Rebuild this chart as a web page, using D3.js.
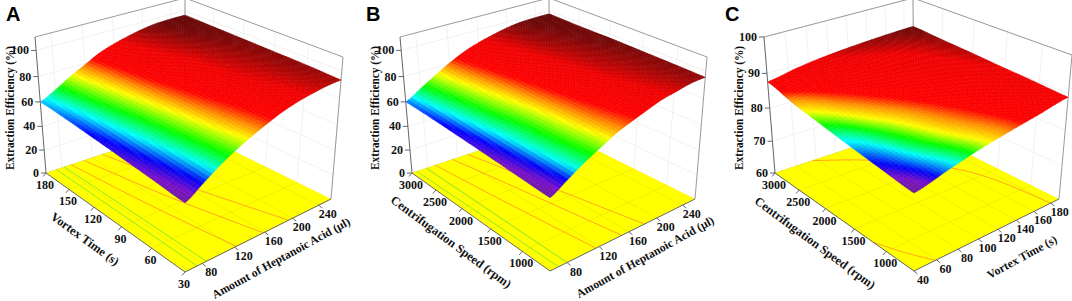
<!DOCTYPE html>
<html>
<head>
<meta charset="utf-8">
<script src="https://cdnjs.cloudflare.com/ajax/libs/d3/7.8.5/d3.min.js"></script>
<style>
  html, body { margin: 0; padding: 0; background: #fff; }
  svg { display: block; }
  text { font-family: "Liberation Serif", serif; font-weight: bold; fill: #111; }
</style>
</head>
<body>
<div id="chart"></div>
<script>
// Values
const heptanoicNodes = [60, 80, 100, 120, 140, 160, 180, 200, 220, 240, 260];
const vortexNodesA = [30, 60, 90, 120, 150, 180];
const efficiencyA = [
  [48, 55.5, 63, 69.5, 75, 80, 84.5, 88, 90.5, 92.5, 93.5],
  [50.5, 57.5, 64.5, 71, 77, 81.5, 85.5, 89.5, 91.5, 93.5, 94.5],
  [53, 60, 66.5, 73, 79, 83.5, 87, 90.5, 92.5, 94, 95],
  [55.5, 62, 68.5, 75, 81, 85.5, 88.5, 91.5, 93.5, 95, 95.5],
  [58, 64, 71, 77, 83, 87.5, 90.5, 93, 95, 96, 96],
  [60, 66, 73, 79, 85, 89, 92, 94.5, 96, 96.5, 96.5]
];
const speedNodesB = [600, 1000, 1500, 2000, 2500, 3000];
const efficiencyB = [
  [51, 58, 65, 71, 77, 81.5, 85.5, 89.5, 92, 94.5, 95.5],
  [52.5, 59.5, 66, 72.5, 78.5, 83, 87, 90.5, 93, 95, 96],
  [54.5, 61, 67.5, 74, 80, 85, 88.5, 92, 94, 95.5, 96.5],
  [56.5, 63, 70, 76, 82, 86.5, 90, 93, 95, 96.5, 97],
  [58.5, 65, 72, 78.5, 84, 88.5, 91.5, 94.5, 96, 97, 97],
  [60, 67, 74, 80.5, 86, 90, 93, 95.5, 97, 97.5, 97.5]
];
const vortexNodesC = [40, 70, 100, 130, 160, 190];
const speedNodesC = [600, 1080, 1560, 2040, 2520, 3000];
const efficiencyC = [
  [79.7, 81.9, 84, 85.7, 87.3, 89],
  [80.9, 83, 84.9, 86.4, 88, 89.6],
  [82.2, 84, 85.7, 87.2, 88.6, 90.1],
  [83.7, 85.3, 86.9, 88.2, 89.5, 90.7],
  [85.3, 86.9, 88.3, 89.4, 90.3, 91.2],
  [87.6, 89.2, 90.3, 91, 91.5, 91.8]
];

// Contour lines on the floor, as [x value, y value] pairs
const contoursA = [
  [[73, 180], [73.5, 105], [74, 30]],
  [[83, 180], [84, 105], [85, 30]],
  [[92, 180], [105, 105], [122, 30]],
  [[109, 180], [130, 105], [158, 30]],
  [[134, 180], [161, 105], [194, 30]]
];
const contoursB = [
  [[66, 3000], [68, 1800], [70, 600]],
  [[78, 3000], [79, 1800], [80, 600]],
  [[90, 3000], [102, 1800], [116, 600]],
  [[113, 3000], [132, 1800], [150, 600]],
  [[134, 3000], [158, 1800], [182, 600]]
];
const contoursC = [
  [[76, 3000], [115, 2592], [160, 1848], [173.5, 1344], [179.5, 600]],
  [[40, 1200], [48.5, 886], [59, 600]]
];

const heptanoicTicks = [80, 120, 160, 200, 240];
const vortexTicksA = [30, 60, 90, 120, 150, 180];
const speedTicks = [1000, 1500, 2000, 2500, 3000];
const vortexTicksC = [40, 60, 80, 100, 120, 140, 160, 180];
const efficiencyTicksAB = [0, 20, 40, 60, 80, 100];
const efficiencyTicksC = [60, 70, 80, 90, 100];

const heptanoicTitle = 'Amount of Heptanoic Acid (µl)';
const vortexTitle = 'Vortex Time (s)';
const speedTitle = 'Centrifugation Speed (rpm)';
const efficiencyTitle = 'Extraction Efficiency (%)';

const greenLine = '#8ee82e';
const orangeLine = '#ffa423';

const panels = [
  {
    letter: 'A', letterX: 6,
    xNodes: heptanoicNodes, yNodes: vortexNodesA, values: efficiencyA,
    xDomain: [60, 260], yDomain: [30, 180], zDomain: [0, 110],
    xTicks: heptanoicTicks, yTicks: vortexTicksA, zTicks: efficiencyTicksAB,
    xTitle: heptanoicTitle, yTitle: vortexTitle,
    xTitlePos: [281, 258, -28.8], yTitlePos: [85, 239, 36], zTitleX: 10,
    contours: contoursA, contourColors: [greenLine, greenLine, orangeLine, orangeLine, orangeLine],
    floor: { F: [185, 272], R: [331, 199], B: [185, 127], L: [46, 173] },
    top: { F: [185, 105], R: [343, 57], B: [185, -2], L: [35, 37] },
    colorStops: [47, 51, 56, 61.5, 67.5, 74, 78, 82, 90, 97]
  },
  {
    letter: 'B', letterX: 366,
    xNodes: heptanoicNodes, yNodes: speedNodesB, values: efficiencyB,
    xDomain: [60, 260], yDomain: [600, 3000], zDomain: [0, 110],
    xTicks: heptanoicTicks, yTicks: speedTicks, zTicks: efficiencyTicksAB,
    xTitle: heptanoicTitle, yTitle: speedTitle,
    xTitlePos: [645, 257, -29], yTitlePos: [451, 242, 36.4], zTitleX: 375,
    contours: contoursB, contourColors: [greenLine, greenLine, orangeLine, orangeLine, orangeLine],
    floor: { F: [550, 271], R: [695, 199], B: [550, 127], L: [412, 173] },
    top: { F: [550, 105], R: [707, 57], B: [549, -2], L: [400, 37] },
    colorStops: [50, 54, 58, 62.5, 68.5, 75, 79, 83, 91, 98]
  },
  {
    letter: 'C', letterX: 725,
    xNodes: vortexNodesC, yNodes: speedNodesC, values: efficiencyC,
    xDomain: [40, 190], yDomain: [600, 3000], zDomain: [60, 100],
    xTicks: vortexTicksC, yTicks: speedTicks, zTicks: efficiencyTicksC,
    xTitle: vortexTitle, yTitle: speedTitle,
    xTitlePos: [1022, 257, -28.7], yTitlePos: [815, 243, 36.4], zTitleX: 739,
    contours: contoursC, contourColors: [orangeLine, orangeLine],
    floor: { F: [914, 271], R: [1059, 199], B: [914, 127], L: [775, 173] },
    top: { F: [914, 105], R: [1072, 55], B: [913, -2], L: [764, 37] },
    colorStops: [79.7, 80.4, 81.2, 82.5, 83.6, 84.6, 85.6, 86.5, 90, 92]
  }
];

const stopColors = ['#6a1c9c', '#7a10cf', '#0000ff', '#00ffff', '#00ff00', '#ffff00', '#ff9000', '#ff0000', '#f00000', '#5c0808'];

const CELLS = 56;      // drawn surface cells per side
const MESH_EVERY = 2;  // one mesh line each two cells
const PERSPECTIVE = 1.095;

const svg = d3.select('#chart').append('svg')
  .attr('width', 1072)
  .attr('height', 301)
  .attr('viewBox', '0 0 1072 301');

// Unit square to quad (F, R, B, L)
function quadMap(q) {
  const [x0, y0] = q.F, [x1, y1] = q.R, [x2, y2] = q.B, [x3, y3] = q.L;
  const dx1 = x1 - x2, dx2 = x3 - x2, sx = x0 - x1 + x2 - x3;
  const dy1 = y1 - y2, dy2 = y3 - y2, sy = y0 - y1 + y2 - y3;
  const det = dx1 * dy2 - dx2 * dy1;
  const g = (sx * dy2 - dx2 * sy) / det;
  const h = (dx1 * sy - sx * dy1) / det;
  const a = x1 - x0 + g * x1, b = x3 - x0 + h * x3;
  const d = y1 - y0 + g * y1, e = y3 - y0 + h * y3;
  return (u, v) => {
    const w = g * u + h * v + 1;
    return [(a * u + b * v + x0) / w, (d * u + e * v + y0) / w];
  };
}

// Smooth line through a row of read values, t counts in nodes
function smoothRow(vals, t) {
  const n = vals.length;
  const i = Math.max(0, Math.min(n - 2, Math.floor(t)));
  const f = t - i;
  const p0 = vals[Math.max(i - 1, 0)], p1 = vals[i], p2 = vals[i + 1], p3 = vals[Math.min(i + 2, n - 1)];
  return 0.5 * (2 * p1 + (p2 - p0) * f + (2 * p0 - 5 * p1 + 4 * p2 - p3) * f * f + (3 * p1 - p0 - 3 * p2 + p3) * f * f * f);
}

function drawPanel(p) {
  const g = svg.append('g');
  const x = d3.scaleLinear().domain(p.xDomain).range([0, 1]);
  const y = d3.scaleLinear().domain(p.yDomain).range([0, 1]);
  const z = d3.scaleLinear().domain(p.zDomain).range([0, 1]);
  const color = d3.scaleLinear().domain(p.colorStops).range(stopColors).clamp(true);
  const xIndex = d3.scaleLinear().domain(p.xNodes).range(d3.range(p.xNodes.length));
  const yIndex = d3.scaleLinear().domain(p.yNodes).range(d3.range(p.yNodes.length));

  const floorAt = quadMap(p.floor);
  const topAt = quadMap(p.top);

  // u, v, w all 0..1, heights get the slight perspective of the box
  function project(u, v, w) {
    const a = floorAt(u, v), b = topAt(u, v);
    const t = w / (w + (1 - w) * PERSPECTIVE);
    return [a[0] + (b[0] - a[0]) * t, a[1] + (b[1] - a[1]) * t];
  }
  const line = d3.line();

  function efficiencyAt(u, v) {
    const xv = x.invert(u), yv = y.invert(v);
    const across = p.values.map(row => smoothRow(row, xIndex(xv)));
    return smoothRow(across, yIndex(yv));
  }

  // Wall grid
  const wall = g.append('g').attr('fill', 'none').attr('stroke', '#ececec').attr('stroke-width', 0.7);
  p.zTicks.forEach(t => {
    wall.append('path').attr('d', line([project(0, 1, z(t)), project(1, 1, z(t)), project(1, 0, z(t))]));
  });
  p.xTicks.forEach(t => {
    wall.append('path').attr('d', line([project(x(t), 1, 0), project(x(t), 1, 1)]));
  });
  p.yTicks.forEach(t => {
    wall.append('path').attr('d', line([project(1, y(t), 0), project(1, y(t), 1)]));
  });

  // Box edges behind the surface
  const frame = g.append('g').attr('fill', 'none').attr('stroke', '#9a9a9a').attr('stroke-width', 1);
  frame.append('path').attr('d', line([project(0, 1, 1), project(1, 1, 1), project(1, 0, 1), project(1, 0, 0)]));
  frame.append('path').attr('d', line([project(1, 1, 1), project(1, 1, 0)]));

  // Floor and its contours
  g.append('path')
    .attr('d', line([project(0, 0, 0), project(1, 0, 0), project(1, 1, 0), project(0, 1, 0)]) + 'Z')
    .attr('fill', '#ffff00');
  const floorGrid = g.append('g').attr('fill', 'none').attr('stroke', '#e2e200').attr('stroke-width', 0.5);
  p.xTicks.forEach(t => floorGrid.append('path').attr('d', line([project(x(t), 0, 0), project(x(t), 1, 0)])));
  p.yTicks.forEach(t => floorGrid.append('path').attr('d', line([project(0, y(t), 0), project(1, y(t), 0)])));

  const contourLine = d3.line()
    .x(d => project(x(d[0]), y(d[1]), 0)[0])
    .y(d => project(x(d[0]), y(d[1]), 0)[1])
    .curve(d3.curveCatmullRom);
  g.append('g').selectAll('path')
    .data(p.contours)
    .join('path')
    .attr('d', contourLine)
    .attr('fill', 'none')
    .attr('stroke', (d, i) => p.contourColors[i])
    .attr('stroke-width', 1);

  // Surface, drawn far corner first
  const cells = [];
  for (let j = CELLS - 1; j >= 0; j--) {
    for (let i = CELLS - 1; i >= 0; i--) cells.push([i, j]);
  }
  const heights = d3.range(CELLS + 1).map(j =>
    d3.range(CELLS + 1).map(i => efficiencyAt(i / CELLS, j / CELLS)));
  const node = (i, j) => project(i / CELLS, j / CELLS, z(heights[j][i]));

  g.append('g').selectAll('path')
    .data(cells)
    .join('path')
    .attr('d', ([i, j]) => line([node(i, j), node(i + 1, j), node(i + 1, j + 1), node(i, j + 1)]) + 'Z')
    .each(function([i, j]) {
      const c = color((heights[j][i] + heights[j][i + 1] + heights[j + 1][i] + heights[j + 1][i + 1]) / 4);
      d3.select(this).attr('fill', c).attr('stroke', c).attr('stroke-width', 0.5);
    });

  // Mesh
  const mesh = g.append('g').attr('fill', 'none').attr('stroke', 'rgba(70,0,0,0.05)').attr('stroke-width', 0.5);
  for (let k = 0; k <= CELLS; k += MESH_EVERY) {
    mesh.append('path').attr('d', line(d3.range(CELLS + 1).map(i => node(i, k))));
    mesh.append('path').attr('d', line(d3.range(CELLS + 1).map(j => node(k, j))));
  }

  // Z axis on the left corner
  const axis = g.append('g').attr('fill', 'none').attr('stroke', '#666').attr('stroke-width', 1);
  axis.append('path').attr('d', line([project(0, 1, 0), project(0, 1, 1)]));
  p.zTicks.forEach(t => {
    const a = project(0, 1, z(t));
    axis.append('path').attr('d', line([a, [a[0] - 5, a[1]]]));
    g.append('text').text(t)
      .attr('x', a[0] - 7).attr('y', a[1])
      .attr('text-anchor', 'end').attr('dominant-baseline', 'central')
      .attr('font-size', 12);
  });

  // Floor axes: y runs front to left, x runs front to right
  axis.append('path').attr('d', line([project(0, 1, 0), project(0, 0, 0), project(1, 0, 0)]));
  p.yTicks.forEach(t => {
    const a = project(0, y(t), 0);
    axis.append('path').attr('d', line([a, [a[0] - 3, a[1] + 3.5]]));
    g.append('text').text(t)
      .attr('x', a[0] - 1).attr('y', a[1] + 12)
      .attr('text-anchor', 'middle').attr('dominant-baseline', 'central')
      .attr('font-size', 12);
  });
  p.xTicks.forEach(t => {
    const a = project(x(t), 0, 0);
    axis.append('path').attr('d', line([a, [a[0] + 3.5, a[1] + 3]]));
    g.append('text').text(t)
      .attr('x', a[0] + 9).attr('y', a[1] + 9)
      .attr('text-anchor', 'middle').attr('dominant-baseline', 'central')
      .attr('font-size', 12);
  });

  // Titles
  const title = (label, [tx, ty, angle], size) => g.append('text').text(label)
    .attr('transform', `translate(${tx},${ty}) rotate(${angle})`)
    .attr('text-anchor', 'middle').attr('dominant-baseline', 'central')
    .attr('font-size', size);
  title(p.xTitle, p.xTitlePos, 11.8);
  title(p.yTitle, p.yTitlePos, 12.3);
  // the reference squeezes this one a little
  title(efficiencyTitle, [p.zTitleX, 108, -90], 12.6)
    .attr('textLength', 124)
    .attr('lengthAdjust', 'spacingAndGlyphs');

  g.append('text').text(p.letter)
    .attr('x', p.letterX).attr('y', 21)
    .attr('font-size', 20)
    .style('font-family', '"Liberation Sans", sans-serif')
    .style('fill', '#000');
}

panels.forEach(drawPanel);
</script>
</body>
</html>
